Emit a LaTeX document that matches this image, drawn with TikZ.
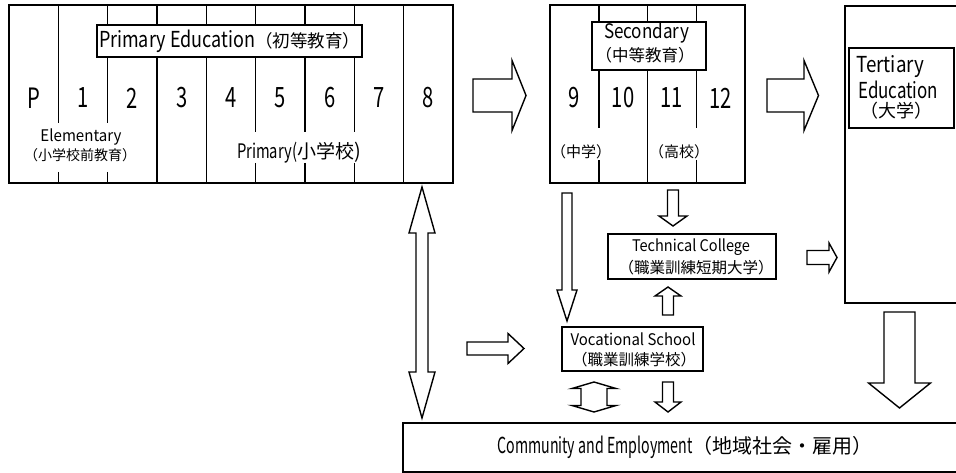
\documentclass[tikz,border=0pt]{standalone}
\usepackage{fontspec}
\usepackage{graphicx}
\setmainfont{Noto Sans CJK JP}
\usetikzlibrary{calc}
\newcommand\fs[1]{\fontsize{#1pt}{#1pt}\selectfont}
\newcommand\fitw[2]{\resizebox{#1pt}{\height}{#2}}
\newcommand\dg[1]{\scalebox{0.72}[1]{#1}}
% block arrows: #1 tail coord, #2 tip coord, #3 shaft half width, #4 head half width, #5 head length
\newcommand\BArR[5]{\draw[blk] let \p1=(#1), \p2=(#2) in (\x1,\y1+#3pt) -- (\x2-#5pt,\y1+#3pt) -- (\x2-#5pt,\y1+#4pt) -- (\x2,\y1) -- (\x2-#5pt,\y1-#4pt) -- (\x2-#5pt,\y1-#3pt) -- (\x1,\y1-#3pt) -- cycle;}
\newcommand\BArD[5]{\draw[blk] let \p1=(#1), \p2=(#2) in (\x1-#3pt,\y1) -- (\x1-#3pt,\y2+#5pt) -- (\x1-#4pt,\y2+#5pt) -- (\x1,\y2) -- (\x1+#4pt,\y2+#5pt) -- (\x1+#3pt,\y2+#5pt) -- (\x1+#3pt,\y1) -- cycle;}
\newcommand\BArU[5]{\draw[blk] let \p1=(#1), \p2=(#2) in (\x1-#3pt,\y1) -- (\x1-#3pt,\y2-#5pt) -- (\x1-#4pt,\y2-#5pt) -- (\x1,\y2) -- (\x1+#4pt,\y2-#5pt) -- (\x1+#3pt,\y2-#5pt) -- (\x1+#3pt,\y1) -- cycle;}
% double vertical: #1 top tip, #2 bottom tip
\newcommand\BArV[5]{\draw[blk] let \p1=(#1), \p2=(#2) in (\x1,\y1) -- (\x1+#4pt,\y1-#5pt) -- (\x1+#3pt,\y1-#5pt) -- (\x1+#3pt,\y2+#5pt) -- (\x1+#4pt,\y2+#5pt) -- (\x1,\y2) -- (\x1-#4pt,\y2+#5pt) -- (\x1-#3pt,\y2+#5pt) -- (\x1-#3pt,\y1-#5pt) -- (\x1-#4pt,\y1-#5pt) -- cycle;}
\begin{document}
\begin{tikzpicture}[x=1pt,y=-1pt,
  box/.style={draw,line width=1.6pt,inner sep=0pt},
  lbl/.style={draw,fill=white,line width=1.6pt,inner sep=0pt},
  dv/.style={line width=1.5pt},
  blk/.style={draw,fill=white,line width=1.4pt,line join=miter},
  txt/.style={inner sep=0pt,anchor=center},
  num/.style={inner sep=0pt,anchor=center,font=\fs{28}}]
\useasboundingbox (0,0) rectangle (956,473);
\fill[white] (0,0) rectangle (956,473);
\clip (0,0) rectangle (956,473);

% main boxes
\node[box,minimum width=444pt,minimum height=178pt] (primary) at (231,94) {};
\node[box,minimum width=195pt,minimum height=178pt] (secondary) at (647.5,94) {};
\node[box,minimum width=120pt,minimum height=297pt] (tertiary) at (905,154.5) {};
\node[box,minimum width=564pt,minimum height=49pt] (community) at (685,447.5)
  {\fs{22}\fitw{195}{Community and Employment}\fs{20}（地域社会・雇用）};
\node[box,minimum width=168pt,minimum height=45pt] (technical) at (692,256.5) {};
\node[box,minimum width=141pt,minimum height=44pt] (vocational) at (632.5,349) {};

% primary dividers
\draw[dv] (58.33,5) -- (58.33,123) (58.33,172) -- (58.33,183);
\draw[dv] (107.67,5) -- (107.67,123) (107.67,172) -- (107.67,183);
\draw[dv] (157,5) -- (157,183);
\draw[dv] (206.33,5) -- (206.33,183);
\foreach \xx in {255.67,305,354.33}{\draw[dv] (\xx,5) -- (\xx,132) (\xx,163) -- (\xx,183);}
\draw[dv] (403.67,5) -- (403.67,183);
% secondary dividers
\draw[dv] (598.75,5) -- (598.75,128) (598.75,160) -- (598.75,183);
\draw[dv] (647.5,5) -- (647.5,183);
\draw[dv] (696.25,5) -- (696.25,128) (696.25,160) -- (696.25,183);

% label boxes
\node[lbl,minimum width=265pt,minimum height=32pt] (pelabel) at (229.5,41)
  {\fs{22}\fitw{156}{Primary Education}\fs{17.5}（初等教育）};
\node[lbl,minimum width=114pt,minimum height=48pt] (seclabel) at (648.9,46) {};
\node[lbl,minimum width=105pt,minimum height=80pt] (terlabel) at (901.5,88) {};

% grade numbers
\foreach \t [count=\i from 0] in {P,1,2,3,4,5,6,7,8}{
  \node[num] (g\i) at ({33.67+49.333*\i},98) {\dg{\t}};}
\foreach \t [count=\i from 9] in {9,10,11,12}{
  \node[num] (g\i) at ({574.4+48.75*(\i-9)},98) {\dg{\t}};}

% texts
\node[txt] (elem) at (81,137) {\fs{16}\fitw{81}{Elementary}};
\node[txt] (elemj) at (80,155) {\fs{14}（小学校前教育）};
\node[txt] (prim) at (299,153) {\fs{20}\fitw{60}{Primary(}\fs{19}小学校\fs{20})};
\node[txt] (sec1) at (646.5,33) {\fs{20}\fitw{85}{Secondary}};
\node[txt] (sec2) at (645,55) {\fs{16.5}（中等教育）};
\node[txt] (jhs) at (581,152) {\fs{15}（中学）};
\node[txt] (shs) at (679,152) {\fs{15}（高校）};
\node[txt,anchor=west] (ter1) at (856,67) {\fs{22}\fitw{68}{Tertiary}};
\node[txt,anchor=west] (ter2) at (858,90) {\fs{22}\fitw{80}{Education}};
\node[txt] (ter3) at (896,111) {\fs{18}（大学）};
\node[txt] (tc1) at (691,247) {\fs{16}\fitw{118}{Technical College}};
\node[txt] (tc2) at (696,268) {\fs{15.5}（職業訓練短期大学）};
\node[txt] (vs1) at (633,339) {\fs{16}\fitw{125}{Vocational School}};
\node[txt] (vs2) at (634,360) {\fs{15.5}（職業訓練学校）};

% arrow end points
\coordinate (a1s) at (473,95.5);   \coordinate (a1e) at (526,95.5);
\coordinate (a2s) at (767,95.5);   \coordinate (a2e) at (818.5,95.5);
\coordinate (a3s) at (567,193);    \coordinate (a3e) at (567,321);
\coordinate (a4s) at (673,190);    \coordinate (a4e) at (673,226);
\coordinate (a5s) at (668,315);    \coordinate (a5e) at (668,287);
\coordinate (a6s) at (807,257.5);  \coordinate (a6e) at (837,257.5);
\coordinate (a7s) at (467,348.5);  \coordinate (a7e) at (524,348.5);
\coordinate (a8s) at (594,382);    \coordinate (a8e) at (594,412);
\coordinate (a9s) at (668,382);    \coordinate (a9e) at (668,412);
\coordinate (a10s) at (422,187);   \coordinate (a10e) at (422,418);
\coordinate (a11s) at (899.5,312); \coordinate (a11e) at (899.5,408);

\BArR{a1s}{a1e}{16.5}{35}{14}
\BArR{a2s}{a2e}{16.5}{35}{14.5}
\BArD{a3s}{a3e}{5}{10}{31}
\BArD{a4s}{a4e}{5.5}{14}{10}
\BArU{a5s}{a5e}{5.5}{13}{9}
\BArR{a6s}{a6e}{7}{14.5}{8}
\BArR{a7s}{a7e}{6.5}{15}{16}
\BArV{a8s}{a8e}{13}{22}{6.5}
\BArD{a9s}{a9e}{5.5}{13}{10}
\BArV{a10s}{a10e}{6}{13}{46}
\BArD{a11s}{a11e}{15.5}{31}{25}
\end{tikzpicture}
\end{document}
